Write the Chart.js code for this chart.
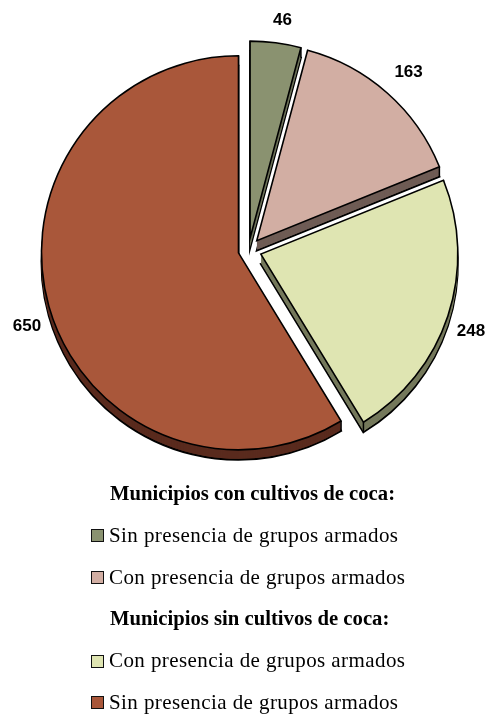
<!DOCTYPE html>
<html>
<head>
    <meta charset="utf-8">
    <title>Municipios con y sin cultivos de coca</title>
    <script src="https://cdn.jsdelivr.net/npm/chart.js"></script>
    <style>
        html, body { margin: 0; padding: 0; background: #fff; overflow: hidden; }
        #wrap { position: relative; width: 485px; height: 714px; overflow: hidden; }
        #leyenda {
            position: absolute;
            left: 91px;
            top: 473px;
            font-family: "Liberation Serif", serif;
            font-size: 21px;
            letter-spacing: 0.42px;
            color: #000;
            white-space: nowrap;
        }
        .fila { height: 41.8px; line-height: 41.8px; display: flex; align-items: center; }
        .titulo { font-weight: bold; font-size: 20.7px; padding-left: 19px; letter-spacing: 0; }
        .cuadro {
            width: 11px;
            height: 11px;
            border: 1.5px solid #111;
            margin-right: 5px;
            flex: none;
        }
    </style>
</head>
<body>
    <div id="wrap">
        <canvas id="myChart" width="485" height="714"></canvas>
        <div id="leyenda"></div>
    </div>

    <script>
        const grupos = ['Municipios con cultivos de coca:', 'Municipios sin cultivos de coca:'];
        const categorias = [
            'Sin presencia de grupos armados',
            'Con presencia de grupos armados',
            'Con presencia de grupos armados',
            'Sin presencia de grupos armados'
        ];
        const valores = [46, 163, 248, 650];
        const colores = ['#8a9270', '#d2aea3', '#dfe5b2', '#a9573a'];
        const coloresLado = ['#6b7058', '#6f5c55', '#74785b', '#5a2b1e'];
        const separacion = [12, 12.5, 13, 10.4];
        const giroEtiquetas = [1, 0.5, 2, -3.5];
        const radioEtiquetas = [220, 227, 224, 224];

        const profundidad = 10;

        // leyenda en HTML: cada grupo lleva dos categorías
        const leyenda = document.getElementById('leyenda');
        function agregarFila(texto, color) {
            const fila = document.createElement('div');
            fila.className = color ? 'fila' : 'fila titulo';
            if (color) {
                const cuadro = document.createElement('span');
                cuadro.className = 'cuadro';
                cuadro.style.backgroundColor = color;
                fila.appendChild(cuadro);
            }
            fila.appendChild(document.createTextNode(texto));
            leyenda.appendChild(fila);
        }
        grupos.forEach((grupo, g) => {
            agregarFila(grupo);
            [0, 1].forEach(i => agregarFila(categorias[g * 2 + i], colores[g * 2 + i]));
        });

        // el offset de Chart.js agranda las porciones grandes, así que cada
        // porción se separa a mano a lo largo de su ángulo medio
        function desplazamiento(arc, i) {
            const medio = (arc.startAngle + arc.endAngle) / 2;
            return { x: Math.cos(medio) * separacion[i], y: Math.sin(medio) * separacion[i] };
        }

        const porciones3d = {
            id: 'porciones3d',
            beforeDatasetDraw(chart) {
                const ctx = chart.ctx;
                const arcos = chart.getDatasetMeta(0).data;

                // primero los lados de todas las porciones
                arcos.forEach((arc, i) => {
                    const d = desplazamiento(arc, i);
                    const original = arc.options;
                    ctx.save();
                    ctx.translate(d.x, d.y);
                    for (let k = profundidad; k >= 1; k--) {
                        const opciones = Object.create(original);
                        opciones.backgroundColor = coloresLado[i];
                        opciones.borderWidth = k === profundidad ? 2 : 0;
                        arc.options = opciones;
                        ctx.save();
                        ctx.translate(0, k);
                        arc.draw(ctx);
                        ctx.restore();
                    }
                    arc.options = original;
                    // aristas verticales en las esquinas
                    ctx.strokeStyle = '#000';
                    ctx.lineWidth = 1.5;
                    [arc.startAngle, arc.endAngle].forEach(a => {
                        const x = arc.x + Math.cos(a) * arc.outerRadius;
                        const y = arc.y + Math.sin(a) * arc.outerRadius;
                        ctx.beginPath();
                        ctx.moveTo(x, y);
                        ctx.lineTo(x, y + profundidad);
                        ctx.stroke();
                    });
                    ctx.restore();
                });

                // después las caras superiores
                arcos.forEach((arc, i) => {
                    const d = desplazamiento(arc, i);
                    ctx.save();
                    ctx.translate(d.x, d.y);
                    arc.draw(ctx);
                    ctx.restore();
                });
                return false;
            }
        };

        // valores junto a cada porción
        const etiquetas = {
            id: 'etiquetas',
            afterDatasetsDraw(chart) {
                const ctx = chart.ctx;
                ctx.save();
                ctx.font = 'bold 17px "Liberation Sans", Arial, sans-serif';
                ctx.fillStyle = '#000';
                ctx.textAlign = 'center';
                ctx.textBaseline = 'middle';
                chart.getDatasetMeta(0).data.forEach((arc, i) => {
                    const d = desplazamiento(arc, i);
                    const medio = (arc.startAngle + arc.endAngle) / 2 + giroEtiquetas[i] * Math.PI / 180;
                    ctx.fillText(String(valores[i]),
                        arc.x + d.x + Math.cos(medio) * radioEtiquetas[i],
                        arc.y + d.y + Math.sin(medio) * radioEtiquetas[i]);
                });
                ctx.restore();
            }
        };

        new Chart(document.getElementById('myChart').getContext('2d'), {
            type: 'pie',
            data: {
                labels: categorias,
                datasets: [{
                    data: valores,
                    backgroundColor: colores,
                    borderColor: '#000',
                    borderWidth: 1.6,
                    borderJoinStyle: 'miter'
                }]
            },
            options: {
                responsive: false,
                animation: false,
                radius: 197,
                layout: { padding: { left: 12, bottom: 214 } },
                plugins: {
                    legend: { display: false },
                    tooltip: { enabled: false }
                }
            },
            plugins: [porciones3d, etiquetas]
        });
    </script>
</body>
</html>
